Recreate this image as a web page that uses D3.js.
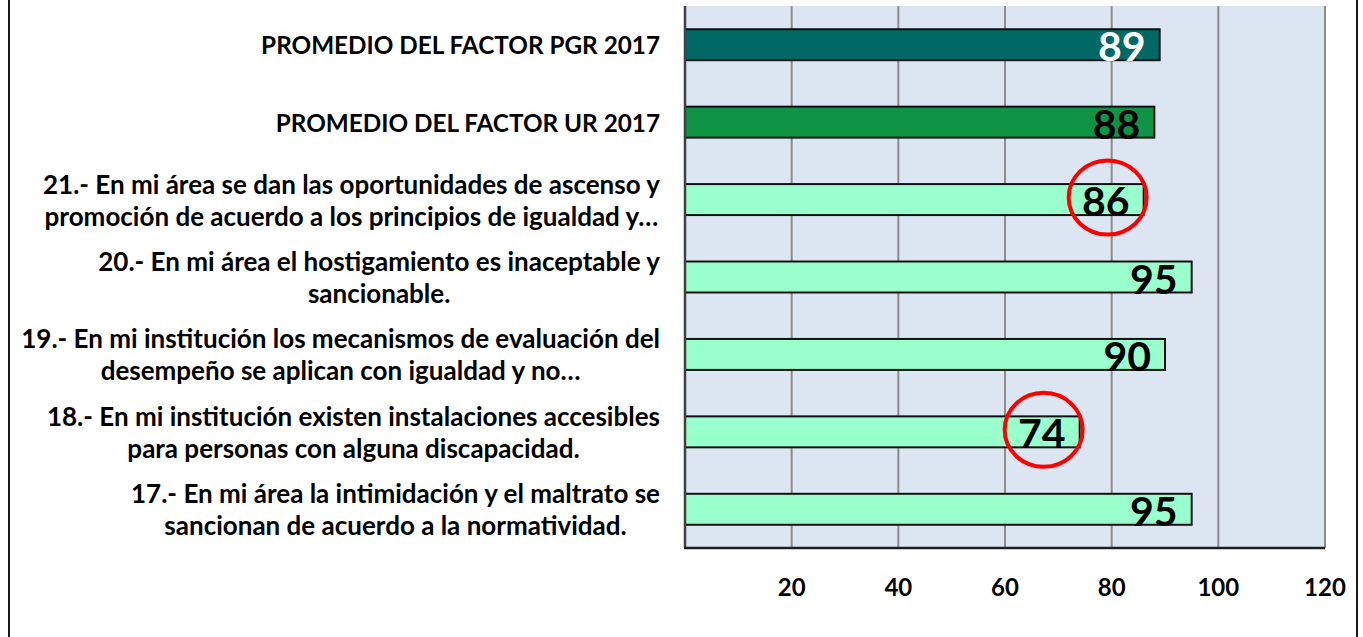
<!DOCTYPE html>
<html>
<head>
<meta charset="utf-8">
<script src="https://cdn.jsdelivr.net/npm/d3@7/dist/d3.min.js"></script>
<style>
  html, body { margin: 0; padding: 0; background: #ffffff; }
  svg { display: block; }
</style>
</head>
<body>
<svg id="chart" width="1363" height="637"></svg>
<script>
// ---- data ----
const categories = [
  ["PROMEDIO DEL FACTOR PGR 2017"],
  ["PROMEDIO DEL FACTOR UR 2017"],
  ["21.- En mi área se dan las oportunidades de ascenso y", "promoción de acuerdo a los principios de igualdad y…"],
  ["20.- En mi área el hostigamiento es inaceptable y", "sancionable."],
  ["19.- En mi institución los mecanismos de evaluación del", "desempeño se aplican con igualdad y no…"],
  ["18.- En mi institución existen instalaciones accesibles", "para personas con alguna discapacidad."],
  ["17.- En mi área la intimidación y el maltrato se", "sancionan de acuerdo a la normatividad."]
];
const values = [89, 88, 86, 95, 90, 74, 95];
const barKinds = ["pgr", "ur", "item", "item", "item", "item", "item"];
const highlighted = [false, false, true, false, false, true, false];
const tickValues = [20, 40, 60, 80, 100, 120];

// ---- styles ----
const fills = { pgr: "#006865", ur: "#0f9345", item: "#99ffcc" };
const labelColors = { pgr: "#ffffff", ur: "#000000", item: "#000000" };
const catFontSize = { pgr: 24.3, ur: 24.3, item: 26 };
const FONT = "Lato, 'Open Sans', sans-serif";

const svg = d3.select("#chart");
const keys = categories.map((c, i) => "c" + i);

const x = d3.scaleLinear().domain([0, 120]).range([685, 1325]);
const y = d3.scaleBand().domain(keys).range([6, 548]).paddingInner(0.6).paddingOuter(0.3);

// outer frame (vertical edges)
svg.append("line").attr("x1", 9).attr("x2", 9).attr("y1", 0).attr("y2", 637)
  .attr("stroke", "#1a1a1a").attr("stroke-width", 2);
svg.append("line").attr("x1", 1357).attr("x2", 1357).attr("y1", 0).attr("y2", 637)
  .attr("stroke", "#1a1a1a").attr("stroke-width", 2);

// plot background
svg.append("rect")
  .attr("x", x(0)).attr("y", 6)
  .attr("width", x(120) - x(0)).attr("height", 542)
  .attr("fill", "#dce6f2");

// gridlines
svg.append("g").selectAll("line").data(tickValues).join("line")
  .attr("x1", d => x(d)).attr("x2", d => x(d))
  .attr("y1", 6).attr("y2", 548)
  .attr("stroke", "#8c8c8c").attr("stroke-width", 2);

// bars
svg.append("g").selectAll("rect").data(values).join("rect")
  .attr("x", x(0))
  .attr("y", (d, i) => y(keys[i]))
  .attr("width", d => x(d) - x(0))
  .attr("height", y.bandwidth())
  .attr("fill", (d, i) => fills[barKinds[i]])
  .attr("stroke", "#111111").attr("stroke-width", 2);

// axes lines
svg.append("line").attr("x1", x(0)).attr("x2", x(0)).attr("y1", 6).attr("y2", 548)
  .attr("stroke", "#404040").attr("stroke-width", 2.5);
svg.append("line").attr("x1", x(0) - 1).attr("x2", x(120)).attr("y1", 548).attr("y2", 548)
  .attr("stroke", "#202020").attr("stroke-width", 2.5);

// x tick labels
svg.append("g").selectAll("text").data(tickValues).join("text")
  .attr("x", d => x(d)).attr("y", 586)
  .attr("text-anchor", "middle").attr("dominant-baseline", "central")
  .attr("font-family", FONT).attr("font-weight", "bold").attr("font-size", 24)
  .attr("fill", "#000").text(d => d);

// value labels
svg.append("g").selectAll("text").data(values).join("text")
  .attr("x", d => x(d) - 14)
  .attr("y", (d, i) => y(keys[i]) + y.bandwidth() / 2 + 1)
  .attr("text-anchor", "end").attr("dominant-baseline", "central")
  .attr("font-family", FONT).attr("font-weight", "bold").attr("font-size", 41)
  .attr("fill", (d, i) => labelColors[barKinds[i]])
  .text(d => d);

// highlight circles
svg.append("g").selectAll("ellipse")
  .data(values.map((v, i) => ({ v, i })).filter(d => highlighted[d.i]))
  .join("ellipse")
  .attr("cx", d => x(d.v) - 36)
  .attr("cy", d => y(keys[d.i]) + y.bandwidth() / 2 - 2)
  .attr("rx", 39).attr("ry", 37)
  .attr("fill", "none").attr("stroke", "#ff0000").attr("stroke-width", 4);

// category labels
const labelRight = 660;
const lg = svg.append("g");
categories.forEach((lines, i) => {
  const cy = y(keys[i]) + y.bandwidth() / 2;
  const g = lg.append("g");
  const texts = lines.map((ln, j) => g.append("text")
    .attr("font-family", FONT).attr("font-weight", "bold")
    .attr("font-size", catFontSize[barKinds[i]])
    .attr("fill", "#000").attr("dominant-baseline", "central")
    .attr("text-anchor", "middle")
    .attr("y", cy + (j - (lines.length - 1) / 2) * 32)
    .text(ln));
  const widths = texts.map(t => t.node().getComputedTextLength());
  const maxW = d3.max(widths);
  texts.forEach(t => t.attr("x", labelRight - maxW / 2));
});
</script>
</body>
</html>
